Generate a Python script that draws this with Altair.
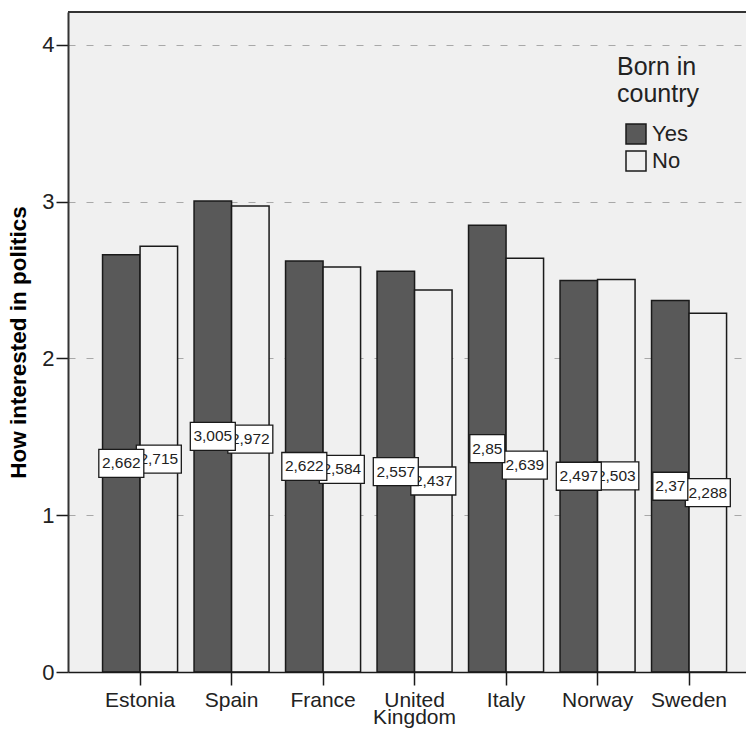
import altair as alt
import pandas as pd

countries = ["Estonia", "Spain", "France", "United Kingdom", "Italy", "Norway", "Sweden"]
groups = ["Yes", "No"]
yes_values = [2.662, 3.005, 2.622, 2.557, 2.85, 2.497, 2.37]
no_values = [2.715, 2.972, 2.584, 2.437, 2.639, 2.503, 2.288]
y_ticks = [0, 1, 2, 3, 4]

rows = []
for c, v in zip(countries, yes_values):
    rows.append({"country": c, "group": "Yes", "value": v, "label": str(v).replace(".", ",")})
for c, v in zip(countries, no_values):
    rows.append({"country": c, "group": "No", "value": v, "label": str(v).replace(".", ",")})
df = pd.DataFrame(rows)

FONT = "Liberation Sans, Arial, sans-serif"
INK = "#1a1a1a"
W, H = 678, 660

x_scale = alt.Scale(paddingInner=0.18, paddingOuter=0.295, align=0.64)
xo_scale = alt.Scale(paddingInner=0, paddingOuter=0)
y_scale = alt.Scale(domain=[0, 4.21], nice=False)

X_AXIS = alt.Axis(title=None, labelAngle=0, labelFontSize=21, labelColor="#222",
                  labelFont=FONT, ticks=True, tickSize=13, tickColor=INK, tickWidth=1.5,
                  domainColor=INK, domainWidth=1.5, labelPadding=4,
                  labelLineHeight=17, grid=False, labelBaseline="top", zindex=1,
                  labelExpr="datum.label == 'United Kingdom' ? ['United', 'Kingdom'] : datum.label")
Y_AXIS = alt.Axis(title="How interested in politics", values=y_ticks, format="d",
                  titleFontSize=22.5, titleFontWeight="bold", titleFont=FONT,
                  titleColor="black", titlePadding=11,
                  labelFontSize=22, labelFont=FONT, labelColor="#222", labelPadding=2,
                  ticks=True, tickSize=12, tickColor=INK, tickWidth=1.5,
                  domainColor="#333", domainWidth=2,
                  grid=True, gridDash=[7, 11], gridColor="#a8a8a8", gridWidth=1)

base = alt.Chart(df)

bars = base.mark_bar(stroke=INK, strokeWidth=1.5).encode(
    x=alt.X("country:N", sort=countries, scale=x_scale, axis=X_AXIS),
    xOffset=alt.XOffset("group:N", sort=groups, scale=xo_scale),
    y=alt.Y("value:Q", scale=y_scale, axis=Y_AXIS),
    color=alt.Color("group:N", sort=groups,
                    scale=alt.Scale(domain=groups, range=["#595959", "#f0f0f0"]),
                    legend=alt.Legend(title=["Born in", "country"], orient="none",
                                      legendX=549, legendY=43,
                                      titleFontSize=25, titleFontWeight="normal", titleFont=FONT,
                                      titleColor="#222", titleLineHeight=27, titlePadding=16,
                                      labelFontSize=22, labelFont=FONT, labelColor="#222",
                                      labelOffset=5, symbolType="square", symbolSize=400,
                                      symbolStrokeColor=INK, symbolStrokeWidth=1.5,
                                      symbolOffset=8, rowPadding=1)),
)


def label_layers(g):
    sub = base.transform_filter(alt.datum.group == g).transform_calculate(
        mid="datum.value / 2",
        lo="datum.value / 2 - 0.0893",
        hi="datum.value / 2 + 0.0893",
        w="length(datum.label) * 10 - 5",
    )
    box = sub.mark_bar(fill="white", stroke=INK, strokeWidth=1.3).encode(
        x=alt.X("country:N", sort=countries, scale=x_scale, axis=X_AXIS),
        xOffset=alt.XOffset("group:N", sort=groups, scale=xo_scale),
        y=alt.Y("lo:Q", scale=y_scale, axis=Y_AXIS),
        y2="hi:Q",
        size=alt.Size("w:Q", scale=None, legend=None),
    )
    txt = sub.mark_text(fontSize=15.5, font=FONT, color="#222", baseline="middle").encode(
        x=alt.X("country:N", sort=countries, scale=x_scale, axis=X_AXIS),
        xOffset=alt.XOffset("group:N", sort=groups, scale=xo_scale),
        y=alt.Y("mid:Q", scale=y_scale, axis=Y_AXIS),
        text="label:N",
    )
    return [box, txt]


top_border = alt.Chart(df).mark_rule(color="#333", strokeWidth=2).encode(
    x=alt.value(0), x2=alt.value(W), y=alt.value(0)
)

chart = alt.layer(bars, *label_layers("No"), *label_layers("Yes"), top_border).properties(
    width=W, height=H,
    autosize=alt.AutoSizeParams(type="none"),
    padding={"left": 60, "top": 4, "right": 0, "bottom": 56},
    background="white",
).configure_view(fill="#f0f0f0", stroke=None)

chart.save("out.html", embed_options={"renderer": "svg", "actions": False})
